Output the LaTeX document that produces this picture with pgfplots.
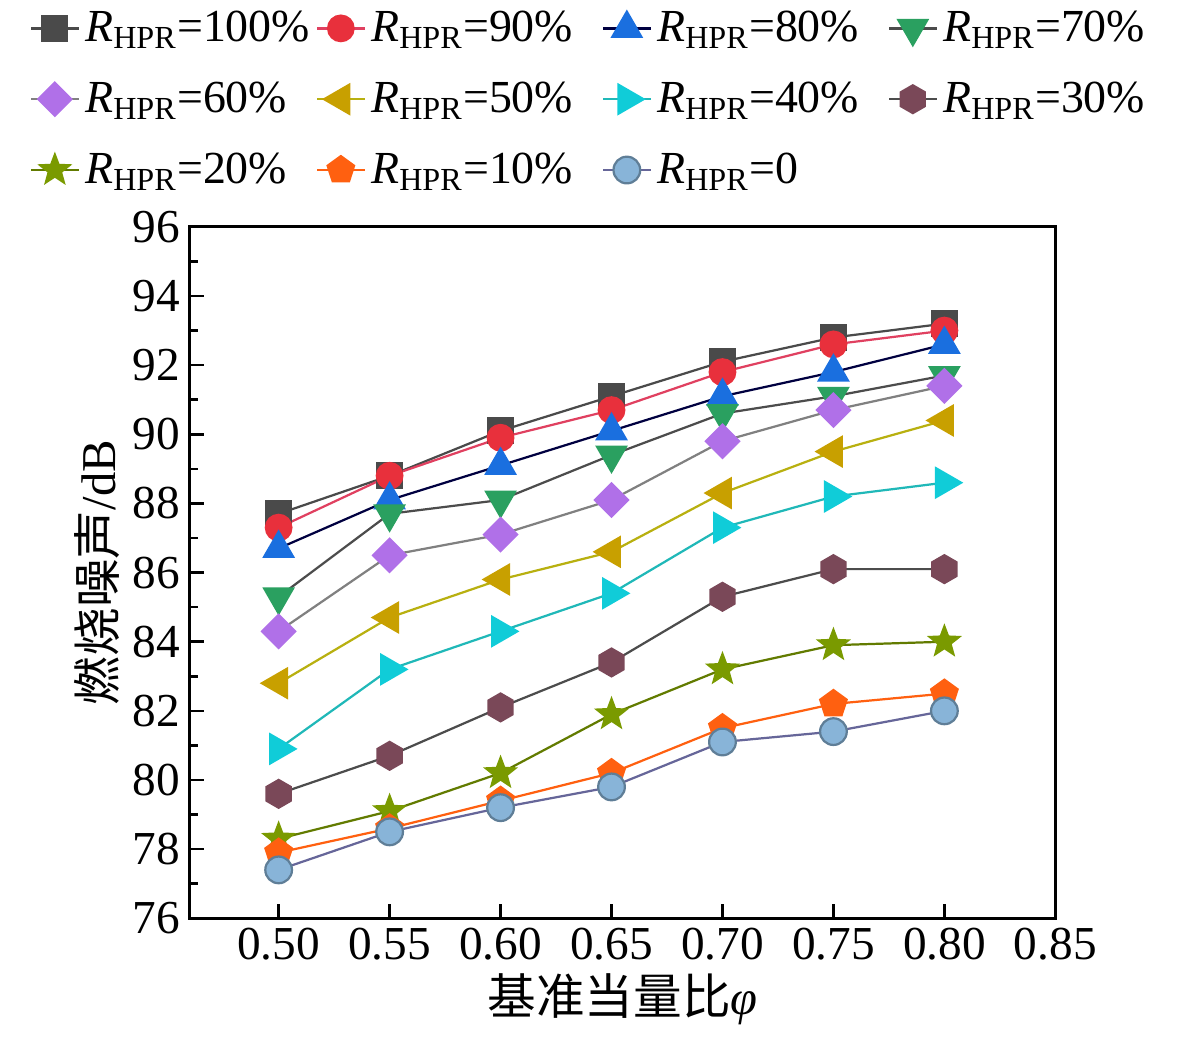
\documentclass[border=0pt]{standalone}
\usepackage{fontspec}
\setmainfont{Liberation Serif}
\newfontfamily\cjk{Noto Sans CJK SC}
\usepackage{pgfplots}
\pgfplotsset{compat=1.18}
\usetikzlibrary{plotmarks}
\pgfdeclareplotmark{fstar}{%
  \pgfpathmoveto{\pgfpointpolar{90}{\pgfplotmarksize}}%
  \pgfpathlineto{\pgfpointpolar{126}{0.42\pgfplotmarksize}}%
  \pgfpathlineto{\pgfpointpolar{162}{\pgfplotmarksize}}%
  \pgfpathlineto{\pgfpointpolar{198}{0.42\pgfplotmarksize}}%
  \pgfpathlineto{\pgfpointpolar{234}{\pgfplotmarksize}}%
  \pgfpathlineto{\pgfpointpolar{270}{0.42\pgfplotmarksize}}%
  \pgfpathlineto{\pgfpointpolar{306}{\pgfplotmarksize}}%
  \pgfpathlineto{\pgfpointpolar{342}{0.42\pgfplotmarksize}}%
  \pgfpathlineto{\pgfpointpolar{18}{\pgfplotmarksize}}%
  \pgfpathlineto{\pgfpointpolar{54}{0.42\pgfplotmarksize}}%
  \pgfpathclose
  \pgfusepathqfillstroke}
\pgfdeclareplotmark{hexa}{%
  \pgfpathmoveto{\pgfpointpolar{90}{\pgfplotmarksize}}%
  \pgfpathlineto{\pgfpointpolar{150}{\pgfplotmarksize}}%
  \pgfpathlineto{\pgfpointpolar{210}{\pgfplotmarksize}}%
  \pgfpathlineto{\pgfpointpolar{270}{\pgfplotmarksize}}%
  \pgfpathlineto{\pgfpointpolar{330}{\pgfplotmarksize}}%
  \pgfpathlineto{\pgfpointpolar{30}{\pgfplotmarksize}}%
  \pgfpathclose
  \pgfusepathqfillstroke}
\definecolor{cA}{HTML}{4A4A4A}
\definecolor{cB}{HTML}{E8303C}
\definecolor{cBl}{HTML}{E04060}
\definecolor{cC}{HTML}{1A6FDF}
\definecolor{cD}{HTML}{2AA060}
\definecolor{cE}{HTML}{B070E8}
\definecolor{cF}{HTML}{C8A000}
\definecolor{cFl}{HTML}{B8B010}
\definecolor{cG}{HTML}{10CCD8}
\definecolor{cGl}{HTML}{20B8B8}
\definecolor{cH}{HTML}{7A4858}
\definecolor{cI}{HTML}{7A9A00}
\definecolor{cJ}{HTML}{FF6010}
\definecolor{cK}{HTML}{88B4D8}
\newcommand{\RH}[1]{\textit{R}\textsubscript{HPR}=#1}
\begin{document}
\begin{tikzpicture}[font=\fontsize{16}{19}\selectfont]
\path (-68.3pt,-42.8pt) rectangle (356.5pt,330.3pt);
\begin{axis}[
  scale only axis,
  width=311.3pt, height=248.7pt,
  xmin=0.46, xmax=0.85,
  ymin=76, ymax=96,
  xtick={0.50,0.55,0.60,0.65,0.70,0.75,0.80,0.85},
  ytick={76,78,...,96},
  minor ytick={77,79,...,95},
  xtick pos=bottom, ytick pos=left,
  tick align=inside,
  major tick length=5pt, minor tick length=2.8pt,
  every tick/.style={black, line width=0.9pt},
  axis line style={line width=1.1pt},
  xticklabel style={/pgf/number format/.cd, fixed, fixed zerofill, precision=2},
  /pgf/number format/assume math mode=true,
  tick label style={font=\fontsize{17}{20}\selectfont},
  xlabel={{\cjk 基准当量比}\textit{φ}},
  ylabel={{\cjk 燃烧噪声}/dB},
  label style={font=\fontsize{17.5}{20}\selectfont},
  xlabel style={yshift=2pt},
  ylabel style={yshift=-2pt},
  every axis plot/.append style={line width=0.8pt},
  legend columns=4,
  legend cell align=left,
  legend style={draw=none, fill=none, at={(-0.195,1.325)}, anchor=north west,
    font=\fontsize{16.5}{19}\selectfont,
    /tikz/every odd column/.style={column sep=1pt},
    /tikz/every even column/.style={column sep=6pt},
    nodes={text width=76pt, inner sep=1pt},
    row sep=11pt},
]
\addplot[color=cA, mark=square*, mark size=4.5pt, mark options={fill=cA, draw=cA}] coordinates {
(0.50,87.7) (0.55,88.8) (0.60,90.1) (0.65,91.1) (0.70,92.1) (0.75,92.8) (0.80,93.2)};
\addlegendentry{\RH{100\%}}
\addplot[color=cBl, mark=*, mark size=4.6pt, mark options={fill=cB, draw=cB}] coordinates {
(0.50,87.3) (0.55,88.8) (0.60,89.9) (0.65,90.7) (0.70,91.8) (0.75,92.6) (0.80,93.0)};
\addlegendentry{\RH{90\%}}
\addplot[color=black!75!blue, mark=triangle*, mark size=6pt, mark options={fill=cC, draw=cC}] coordinates {
(0.50,86.7) (0.55,88.1) (0.60,89.1) (0.65,90.1) (0.70,91.1) (0.75,91.8) (0.80,92.6)};
\addlegendentry{\RH{80\%}}
\addplot[color=black!70, mark=triangle*, mark size=6pt, mark options={fill=cD, draw=cD, rotate=180}] coordinates {
(0.50,85.3) (0.55,87.7) (0.60,88.1) (0.65,89.4) (0.70,90.6) (0.75,91.1) (0.80,91.7)};
\addlegendentry{\RH{70\%}}
\addplot[color=gray, mark=square*, mark size=4.2pt, mark options={fill=cE, draw=cE, rotate=45}] coordinates {
(0.50,84.3) (0.55,86.5) (0.60,87.1) (0.65,88.1) (0.70,89.8) (0.75,90.7) (0.80,91.4)};
\addlegendentry{\RH{60\%}}
\addplot[color=cFl, mark=triangle*, mark size=6pt, mark options={fill=cF, draw=cF, rotate=90}] coordinates {
(0.50,82.8) (0.55,84.7) (0.60,85.8) (0.65,86.6) (0.70,88.3) (0.75,89.5) (0.80,90.4)};
\addlegendentry{\RH{50\%}}
\addplot[color=cGl, mark=triangle*, mark size=6pt, mark options={fill=cG, draw=cG, rotate=-90}] coordinates {
(0.50,80.9) (0.55,83.2) (0.60,84.3) (0.65,85.4) (0.70,87.3) (0.75,88.2) (0.80,88.6)};
\addlegendentry{\RH{40\%}}
\addplot[color=black!70, mark=hexa, mark size=5pt, mark options={fill=cH, draw=cH}] coordinates {
(0.50,79.6) (0.55,80.7) (0.60,82.1) (0.65,83.4) (0.70,85.3) (0.75,86.1) (0.80,86.1)};
\addlegendentry{\RH{30\%}}
\addplot[color=cI!80!black, mark=fstar, mark size=5.5pt, mark options={fill=cI, draw=cI}] coordinates {
(0.50,78.3) (0.55,79.1) (0.60,80.2) (0.65,81.9) (0.70,83.2) (0.75,83.9) (0.80,84.0)};
\addlegendentry{\RH{20\%}}
\addplot[color=cJ, mark=pentagon*, mark size=5pt, mark options={fill=cJ, draw=cJ}] coordinates {
(0.50,77.9) (0.55,78.6) (0.60,79.4) (0.65,80.2) (0.70,81.5) (0.75,82.2) (0.80,82.5)};
\addlegendentry{\RH{10\%}}
\addplot[color=gray!80!blue, mark=*, mark size=4.8pt, mark options={fill=cK, draw=cK!70!black}] coordinates {
(0.50,77.4) (0.55,78.5) (0.60,79.2) (0.65,79.8) (0.70,81.1) (0.75,81.4) (0.80,82.0)};
\addlegendentry{\RH{0}}
\end{axis}
\end{tikzpicture}
\end{document}
